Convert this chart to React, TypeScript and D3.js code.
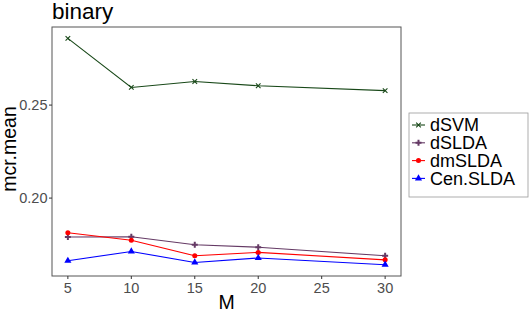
import * as d3 from "d3";

// values
const mValues = [5, 10, 15, 20, 30];
const seriesNames = ["dSVM", "dSLDA", "dmSLDA", "Cen.SLDA"];
const dSVM = [0.2859, 0.2595, 0.2627, 0.2604, 0.2578];
const dSLDA = [0.1791, 0.1792, 0.1749, 0.1736, 0.169];
const dmSLDA = [0.1814, 0.1773, 0.169, 0.1708, 0.1668];
const cenSLDA = [0.1663, 0.1713, 0.1654, 0.1678, 0.1642];
const xTicks = [5, 10, 15, 20, 25, 30];
const yTicks = [0.2, 0.25];

const seriesValues = [dSVM, dSLDA, dmSLDA, cenSLDA];
const colors = ["#184818", "#653a65", "#ff0000", "#0000ff"];
const shapes = [d3.symbolCross, d3.symbolCross, d3.symbolCircle, d3.symbolTriangle];

const width = 530;
const height = 312;
const margin = { top: 27, right: 129, bottom: 36, left: 52 };
const font = "'Liberation Sans', Arial, sans-serif";

function expand(lo: number, hi: number): [number, number] {
  const pad = (hi - lo) * 0.05;
  return [lo - pad, hi + pad];
}

function Marker({ i, x, y }: { i: number; x: number; y: number }) {
  if (i === 0) {
    // ggplot shape 4: an "x"
    const s = 2.3;
    return (
      <path
        d={`M${x - s},${y - s}L${x + s},${y + s}M${x - s},${y + s}L${x + s},${y - s}`}
        stroke={colors[i]}
        strokeWidth={1.1}
      />
    );
  }
  const size = i === 3 ? 22 : 20;
  const sym = d3.symbol().type(shapes[i]).size(size)()!;
  return <path d={sym} transform={`translate(${x},${y})`} fill={colors[i]} />;
}

export default function App() {
  const all = seriesValues.flat();
  const x = d3
    .scaleLinear()
    .domain(expand(d3.min(mValues)!, d3.max(mValues)!))
    .range([margin.left, width - margin.right]);
  const y = d3
    .scaleLinear()
    .domain(expand(d3.min(all)!, d3.max(all)!))
    .range([height - margin.bottom, margin.top]);

  const line = d3
    .line<number>()
    .x((_, j) => x(mValues[j]))
    .y((d) => y(d));

  const legendX = 409;
  const legendY = 113;
  const rowH = 17.8;

  return (
    <svg
      width={width}
      height={height}
      style={{ position: "absolute", left: 0, top: 0, background: "#fff" }}
      fontFamily={font}
    >
      <text x={52} y={18.5} fontSize={22.5} fill="#000">
        binary
      </text>

      {/* panel */}
      <rect
        x={margin.left}
        y={margin.top}
        width={width - margin.left - margin.right}
        height={height - margin.top - margin.bottom}
        fill="#fff"
        stroke="#555"
        strokeWidth={1}
      />

      {/* y axis */}
      {yTicks.map((t) => (
        <g key={t}>
          <line x1={margin.left - 3} x2={margin.left} y1={y(t)} y2={y(t)} stroke="#333" />
          <text
            x={margin.left - 4.5}
            y={y(t)}
            dy="0.35em"
            textAnchor="end"
            fontSize={14.5}
            fill="#4d4d4d"
          >
            {t.toFixed(2)}
          </text>
        </g>
      ))}

      {/* x axis */}
      {xTicks.map((t) => (
        <g key={t}>
          <line
            x1={x(t)}
            x2={x(t)}
            y1={height - margin.bottom}
            y2={height - margin.bottom + 3}
            stroke="#333"
          />
          <text
            x={x(t)}
            y={height - margin.bottom + 17}
            textAnchor="middle"
            fontSize={14.5}
            fill="#4d4d4d"
          >
            {t}
          </text>
        </g>
      ))}

      <text x={x(17.5)} y={309} textAnchor="middle" fontSize={19.5} fill="#000">
        M
      </text>
      <text
        transform={`translate(16, 149) rotate(-90)`}
        textAnchor="middle"
        fontSize={19.5}
        fill="#000"
      >
        mcr.mean
      </text>

      {/* series */}
      {seriesValues.map((vals, i) => (
        <g key={seriesNames[i]}>
          <path d={line(vals)!} fill="none" stroke={colors[i]} strokeWidth={1.1} />
          {vals.map((v, j) => (
            <Marker key={j} i={i} x={x(mValues[j])} y={y(v)} />
          ))}
        </g>
      ))}

      {/* legend */}
      <rect
        x={legendX}
        y={legendY}
        width={119}
        height={84}
        fill="#fff"
        stroke="#999"
        strokeWidth={0.8}
      />
      {seriesNames.map((name, i) => {
        const cy = legendY + 12 + rowH * i;
        return (
          <g key={name}>
            <line x1={412} x2={425} y1={cy} y2={cy} stroke={colors[i]} strokeWidth={1.1} />
            <Marker i={i} x={418.5} y={cy} />
            <text x={430} y={cy} dy="0.36em" fontSize={18} fill="#000">
              {name}
            </text>
          </g>
        );
      })}
    </svg>
  );
}
